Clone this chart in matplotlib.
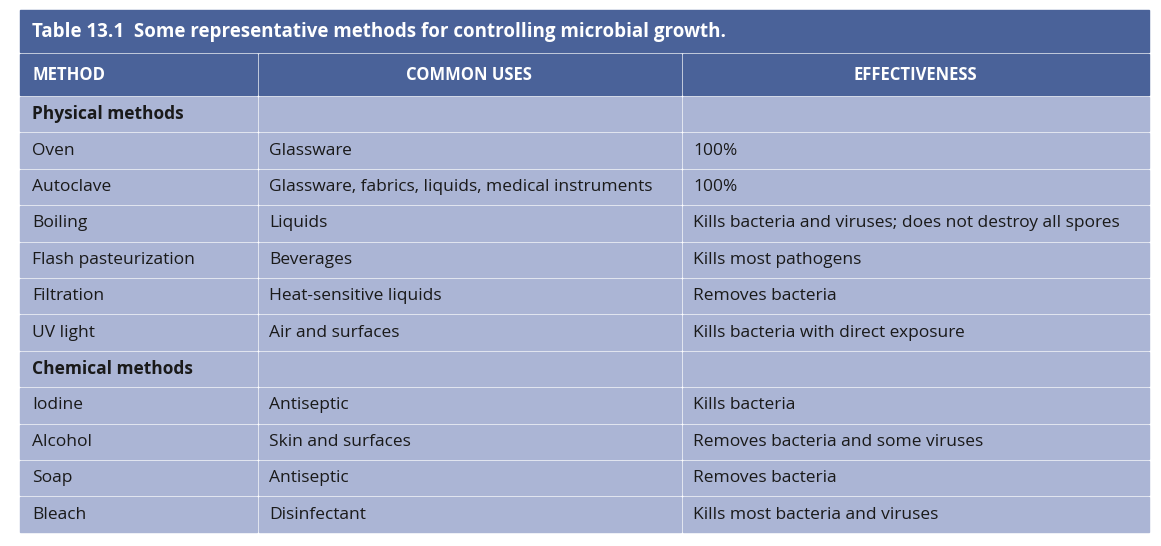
import matplotlib.pyplot as plt
from matplotlib.patches import Rectangle

title = "Table 13.1  Some representative methods for controlling microbial growth."
headers = ["METHOD", "COMMON USES", "EFFECTIVENESS"]
methods = ["Physical methods", "Oven", "Autoclave", "Boiling", "Flash pasteurization",
           "Filtration", "UV light", "Chemical methods", "Iodine", "Alcohol", "Soap", "Bleach"]
uses = ["", "Glassware", "Glassware, fabrics, liquids, medical instruments", "Liquids",
        "Beverages", "Heat-sensitive liquids", "Air and surfaces", "", "Antiseptic",
        "Skin and surfaces", "Antiseptic", "Disinfectant"]
effects = ["", "100%", "100%", "Kills bacteria and viruses; does not destroy all spores",
           "Kills most pathogens", "Removes bacteria", "Kills bacteria with direct exposure",
           "", "Kills bacteria", "Removes bacteria and some viruses", "Removes bacteria",
           "Kills most bacteria and viruses"]
section_rows = {"Physical methods", "Chemical methods"}

dark = "#4a6299"
light = "#abb5d5"
font = "Open Sans"

fig = plt.figure(figsize=(11.61, 5.46), dpi=100)
ax = fig.add_axes([0, 0, 1, 1])
ax.set_xlim(0, 1161)
ax.set_ylim(546, 0)
ax.axis("off")

left, right = 20, 1149
cols = [left, 257, 681, right]
gap = 2

# title bar
ax.add_patch(Rectangle((left, 10), right - left, 42, color=dark))
ax.text(left + 12, 32, title, color="white", fontsize=13.5, fontweight="bold",
        va="center", family=font)

# header row
for i, h in enumerate(headers):
    x0, x1 = cols[i], cols[i + 1]
    ax.add_patch(Rectangle((x0 + (gap if i else 0), 54), x1 - x0 - (gap if i else 0), 41, color=dark))
    xt = x0 + 12 if i == 0 else (x0 + x1) / 2
    ax.text(xt, 75, h, color="white", fontsize=12, fontweight="bold", va="center",
            ha="left" if i == 0 else "center", family=font)

row_top, row_h = 97, 36.4
for r, m in enumerate(methods):
    y0 = row_top + r * row_h
    cells = [m, uses[r], effects[r]]
    for i, txt in enumerate(cells):
        x0, x1 = cols[i], cols[i + 1]
        ax.add_patch(Rectangle((x0 + (gap if i else 0), y0), x1 - x0 - (gap if i else 0),
                               row_h - gap, color=light))
        ax.text(x0 + 12, y0 + (row_h - gap) / 2, txt, color="#1a1a1a", fontsize=12.5,
                va="center", family=font,
                fontweight="bold" if m in section_rows and i == 0 else "normal")

fig.savefig("out.png", dpi=100)
